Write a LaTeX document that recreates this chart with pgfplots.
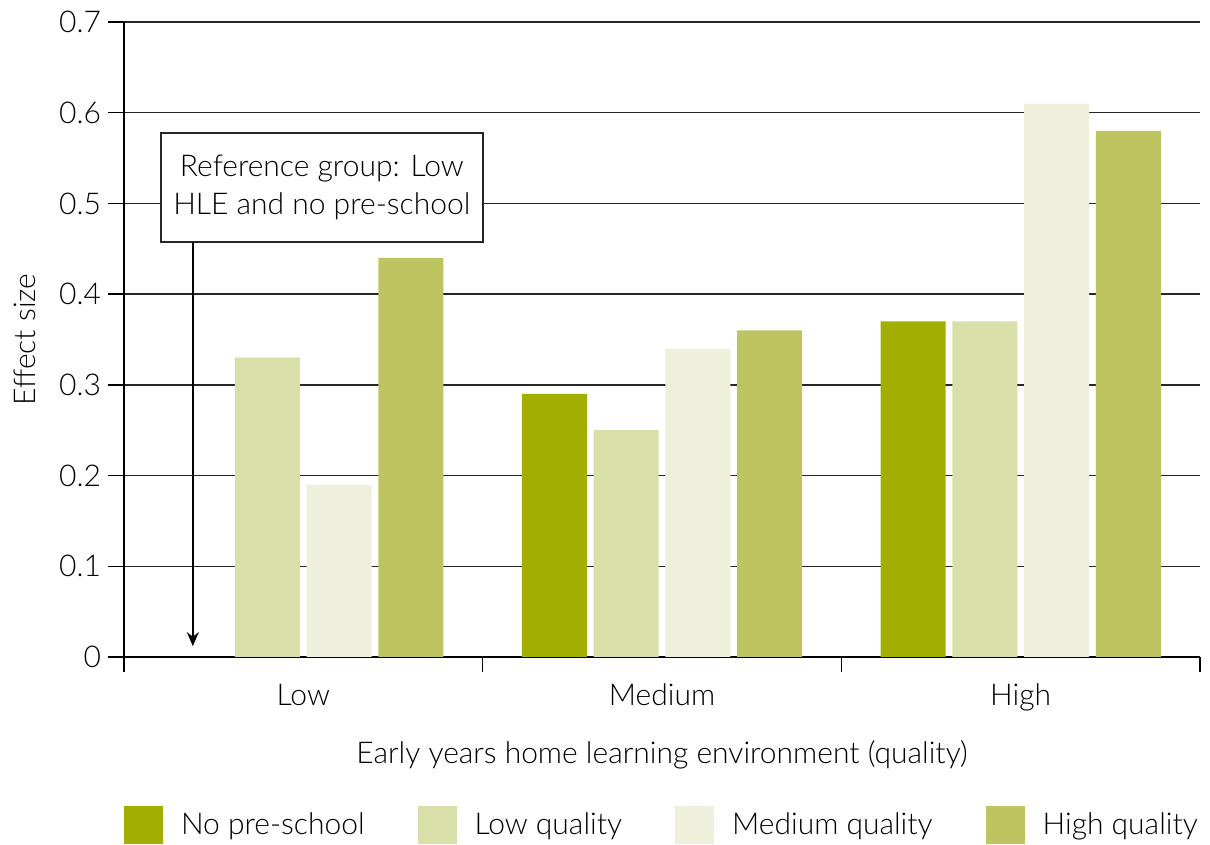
\documentclass[border=0pt]{standalone}
\usepackage{pgfplots}
\pgfplotsset{compat=1.18}
\usepackage{fontspec}
\IfFontExistsTF{Lato Light}{\setmainfont{Lato Light}}{\setmainfont{Lato}}
\usetikzlibrary{arrows.meta}
\definecolor{cnone}{HTML}{A2AE00}
\definecolor{clow}{HTML}{D9DFA8}
\definecolor{cmed}{HTML}{EEF0DC}
\definecolor{chigh}{HTML}{BFC462}
\begin{document}
\begin{tikzpicture}
\useasboundingbox (-62pt,-94pt) rectangle (543pt,328.5pt);
\begin{axis}[
  at={(0,0)}, anchor=south west,
  scale only axis, width=538pt, height=317.5pt,
  xmin=-0.5, xmax=2.5, ymin=0, ymax=0.7,
  ybar, bar width=32.5pt,
  axis x line*=bottom, axis y line*=left,
  axis line style={black, line width=0.7pt},
  xtick={0,1,2}, xticklabels={Low,Medium,High},
  minor xtick={-0.5,0.5,1.5,2.5},
  x tick style={draw=none},
  minor x tick style={draw=black, line width=0.7pt},
  minor tick length=7.5pt,
  xticklabel style={yshift=-2pt},
  ytick={0,0.1,...,0.7},
  y tick style={black, line width=0.7pt},
  major tick length=8pt,
  tick align=outside,
  ymajorgrids, grid style={black!85, line width=0.7pt},
  /pgf/number format/assume math mode=true,
  /pgf/number format/fixed, /pgf/number format/precision=1,
  tick label style={font=\fontsize{15}{18}\selectfont, text=black},
  label style={font=\fontsize{15}{18}\selectfont, text=black},
  xlabel={Early years home learning environment (quality)},
  xlabel style={at={(0.5,0)}, anchor=center, yshift=-49pt},
  ylabel={Effect size},
  ylabel style={at={(0,0.5)}, anchor=center, yshift=49.5pt},
  legend columns=4,
  legend style={at={(0,0)}, anchor=north west, yshift=-74.5pt, draw=none,
    inner sep=0pt, outer sep=0pt,
    font=\fontsize{15}{18}\selectfont, text=black,
    /tikz/every even column/.append style={column sep=24.5pt}},
  legend image code/.code={\fill[#1] (0pt,-9.5pt) rectangle (19.5pt,9.5pt);},
  legend cell align=left,
]
\addplot[fill=cnone, draw=none, bar shift=-53.8pt] coordinates {(1,0.29) (2,0.37)};
\addlegendentry{\hspace{7pt}No pre-school}
\addplot[fill=clow, draw=none, bar shift=-17.93pt] coordinates {(0,0.33) (1,0.25) (2,0.37)};
\addlegendentry{\hspace{7pt}Low quality}
\addplot[fill=cmed, draw=none, bar shift=17.93pt] coordinates {(0,0.19) (1,0.34) (2,0.61)};
\addlegendentry{\hspace{7pt}Medium quality}
\addplot[fill=chigh, draw=none, bar shift=53.8pt] coordinates {(0,0.44) (1,0.36) (2,0.58)};
\addlegendentry{\hspace{7pt}High quality}
\draw[black, line width=0.7pt, -{Stealth[length=7pt,width=6pt]}] (axis cs:-0.308,0.4577) -- (axis cs:-0.308,0.012);
\node[draw=black!85, line width=0.7pt, fill=white, align=center,
  minimum width=161pt, minimum height=54.5pt, inner sep=2pt,
  font=\fontsize{15}{19}\selectfont, text=black]
  at (axis cs:0.0515,0.5176) {Reference group: Low\\HLE and no pre-school};
\end{axis}
\end{tikzpicture}
\end{document}
